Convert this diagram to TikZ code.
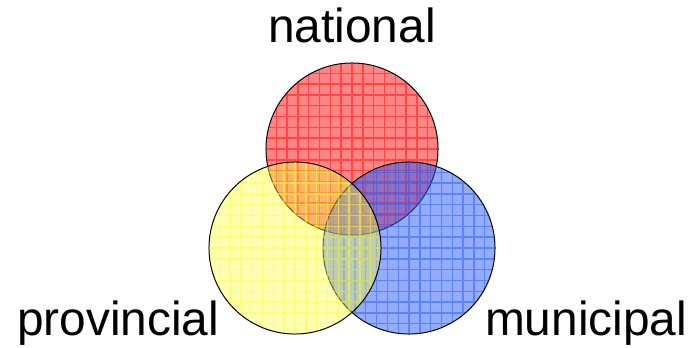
\documentclass[tikz,border=0pt]{standalone}
\usepackage{fontspec}
\setmainfont{Liberation Sans}
\usepackage{tikz}

\begin{document}
\begin{tikzpicture}[x=0.025cm,y=-0.025cm,
    venn/.style={circle, draw=black, line width=0.7pt, minimum size=4.3cm, inner sep=0pt,
      fill=#1, fill opacity=0.5,
      path picture={
        \draw[#1, draw opacity=0.5, line width=1pt, step=0.27cm]
          (path picture bounding box.south west) grid (path picture bounding box.north east);
      }},
    lbl/.style={anchor=base, inner sep=0pt, font=\fontsize{34}{40}\selectfont}]
  \useasboundingbox (0,0) rectangle (696,348);
  \definecolor{vred}{RGB}{255,10,10}
  \definecolor{vblue}{RGB}{40,90,250}
  \definecolor{vyellow}{RGB}{255,255,60}
  \node[venn=vred] (nat) at (352,149) {};
  \node[venn=vblue] (mun) at (409,248) {};
  \node[venn=vyellow, fill opacity=0.4] (prov) at (295,248) {};
  \node[lbl] (natlbl) at (352,43) {national};
  \node[lbl] (provlbl) at (118,335) {provincial};
  \node[lbl] (munlbl) at (586,335) {municipal};
\end{tikzpicture}
\end{document}
